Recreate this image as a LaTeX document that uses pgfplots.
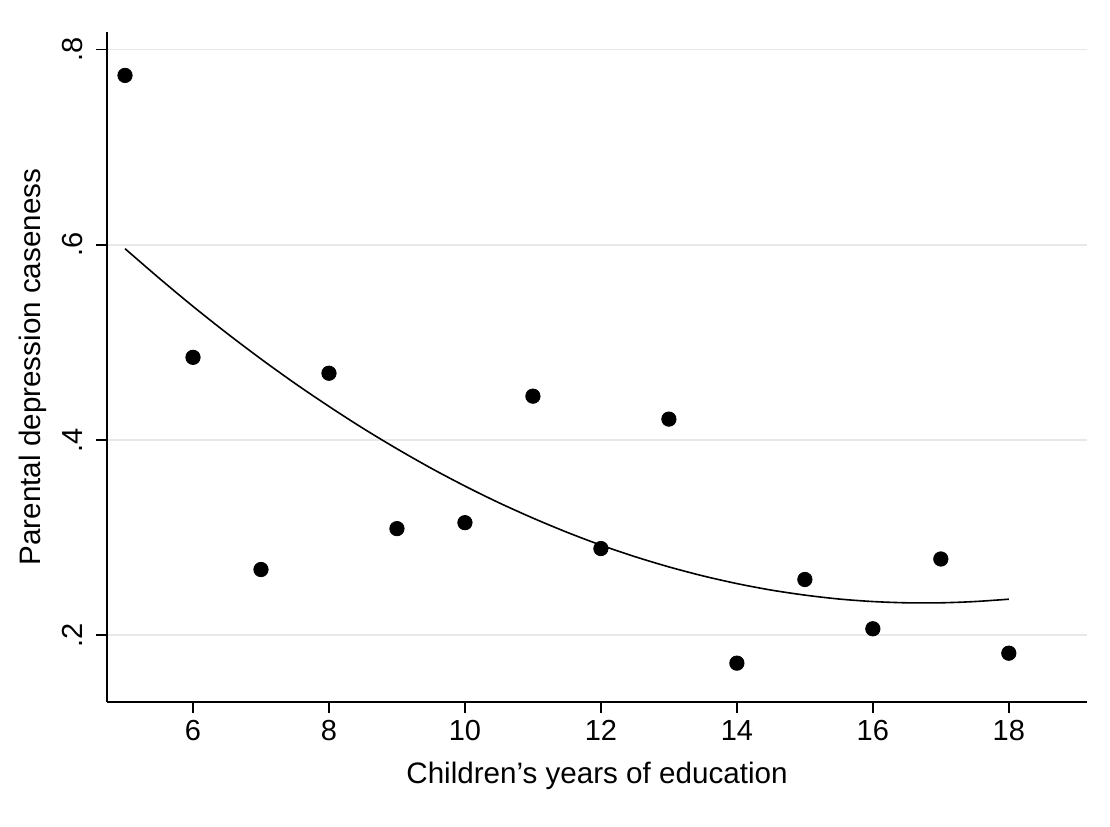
\documentclass[border=0pt]{standalone}
\usepackage{fontspec}
\setmainfont{Liberation Sans}
\usepackage{pgfplots}
\pgfplotsset{compat=1.18}
\begin{document}
\begin{tikzpicture}
\begin{axis}[
  scale only axis,
  width=490pt, height=335pt,
  xmin=4.735, xmax=19.15,
  ymin=0.1316, ymax=0.818,
  axis lines*=left,
  axis line style={line width=0.9pt},
  tick align=outside,
  major tick length=5.5pt,
  tick style={line width=0.9pt, black},
  xtick={6,8,10,12,14,16,18},
  ytick={0.2,0.4,0.6,0.8},
  yticklabels={.2,.4,.6,.8},
  ymajorgrids,
  grid style={line width=0.9pt, black!9},
  /pgf/number format/assume math mode=true,
  ticklabel style={font=\fontsize{14.5}{16}\selectfont},
  yticklabel style={xshift=-3pt, rotate=90, anchor=south},
  xlabel={Children’s years of education},
  ylabel={Parental depression caseness},
  label style={font=\fontsize{14.8}{17}\selectfont},
  xlabel style={yshift=-4pt},
  ylabel style={yshift=1pt},
  clip=false,
]
\addplot[only marks, mark=*, mark size=3.6pt, black] coordinates {
(5,0.7735) (6,0.4847) (7,0.2673) (8,0.4684) (9,0.3092) (10,0.3153)
(11,0.4449) (12,0.2888) (13,0.4214) (14,0.1714) (15,0.2571) (16,0.2066)
(17,0.2781) (18,0.1816)
};
\addplot[black, line width=0.8pt, smooth, no marks] coordinates {
(5,0.5960) (5.5,0.5659) (6,0.5369) (6.5,0.5093) (7,0.4830) (7.5,0.4580)
(8,0.4344) (8.5,0.4120) (9,0.3910) (9.5,0.3712) (10,0.3528) (10.5,0.3357)
(11,0.3200) (11.5,0.3055) (12,0.2923) (12.5,0.2805) (13,0.2700) (13.5,0.2608)
(14,0.2529) (14.5,0.2463) (15,0.2411) (15.5,0.2371) (16,0.2345) (16.5,0.2332)
(17,0.2332) (17.5,0.2345) (18,0.2369)
};
\end{axis}
\pgfresetboundingbox
\path[use as bounding box] ([shift={(-53.5pt,-62.5pt)}]current axis.south west) rectangle ([shift={(11.5pt,16pt)}]current axis.north east);
\end{tikzpicture}
\end{document}
